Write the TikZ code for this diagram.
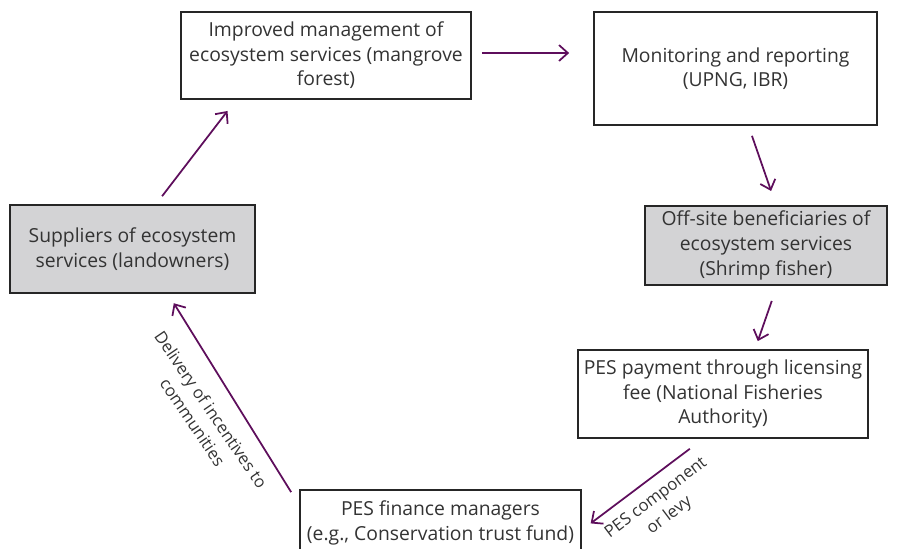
\documentclass[tikz,border=0pt]{standalone}
\usepackage{fontspec}
\setmainfont{Open Sans}
\usetikzlibrary{arrows.meta}
\definecolor{flowpurple}{RGB}{94,14,92}
\definecolor{boxgray}{RGB}{211,211,213}
\definecolor{textgray}{RGB}{51,51,51}
\tikzset{
  box/.style={draw=black!85, line width=1pt, text=textgray, align=center,
    inner sep=0pt, font=\fontsize{11}{14}\selectfont},
  shadedbox/.style={box, fill=boxgray},
  flow/.style={draw=flowpurple, line width=1pt,
    -{Straight Barb[length=5pt,width=9pt]}},
  flowlabel/.style={text=textgray, align=center, inner sep=1pt,
    font=\fontsize{9.5}{12.6}\selectfont}
}
\begin{document}
\begin{tikzpicture}[x=0.02cm, y=-0.02cm]
  \useasboundingbox (0,0) rectangle (902,548);
  \node[box, minimum width=5.8cm, minimum height=1.74cm] (improved) at (326,55.5)
    {Improved management of\\ecosystem services (mangrove\\forest)};
  \node[box, minimum width=5.66cm, minimum height=2.26cm] (monitoring) at (735.5,68.5)
    {Monitoring and reporting\\(UPNG, IBR)};
  \node[shadedbox, minimum width=4.84cm, minimum height=1.58cm] (offsite) at (766,245.5)
    {Off-site beneficiaries of\\ecosystem services\\(Shrimp fisher)};
  \node[box, minimum width=5.8cm, minimum height=1.76cm] (payment) at (723,394)
    {PES payment through licensing\\fee (National Fisheries\\Authority)};
  \node[box, minimum width=5.62cm, minimum height=1.32cm] (finance) at (440.5,523)
    {PES finance managers\\(e.g., Conservation trust fund)};
  \node[shadedbox, minimum width=4.9cm, minimum height=1.76cm] (suppliers) at (132.5,249)
    {Suppliers of ecosystem\\services (landowners)};

  \draw[flow, shorten <=0.2cm, shorten >=0.28cm]
    ([xshift=0.47cm]suppliers.north) -- ([xshift=-1.8cm]improved.south);
  \draw[flow, shorten <=0.2cm, shorten >=0.48cm]
    ([yshift=0.05cm]improved.east) -- ([yshift=0.05cm]improved.east -| monitoring.west);
  \draw[flow, shorten <=0.21cm, shorten >=0.3cm]
    ([xshift=0.26cm]monitoring.south) -- ([xshift=0.2cm]offsite.north);
  \draw[flow, shorten <=0.32cm, shorten >=0.17cm]
    ([xshift=0.22cm]offsite.south) -- ([xshift=0.64cm]payment.north);
  \draw[flow, shorten <=0.33cm, shorten >=0.22cm]
    ([xshift=-0.4cm]payment.south) -- ([yshift=-0.14cm]finance.east);
  \draw[flow, shorten >=0.22cm]
    ([xshift=-0.16cm,yshift=-0.06cm]finance.north west) -- ([xshift=0.71cm]suppliers.south);

  \node[flowlabel, rotate=-55.7] (delivery) at (202,416)
    {Delivery of incentives to\\communities};
  \node[flowlabel, rotate=37] (levy) at (663,507)
    {PES component\\or levy};
\end{tikzpicture}
\end{document}
